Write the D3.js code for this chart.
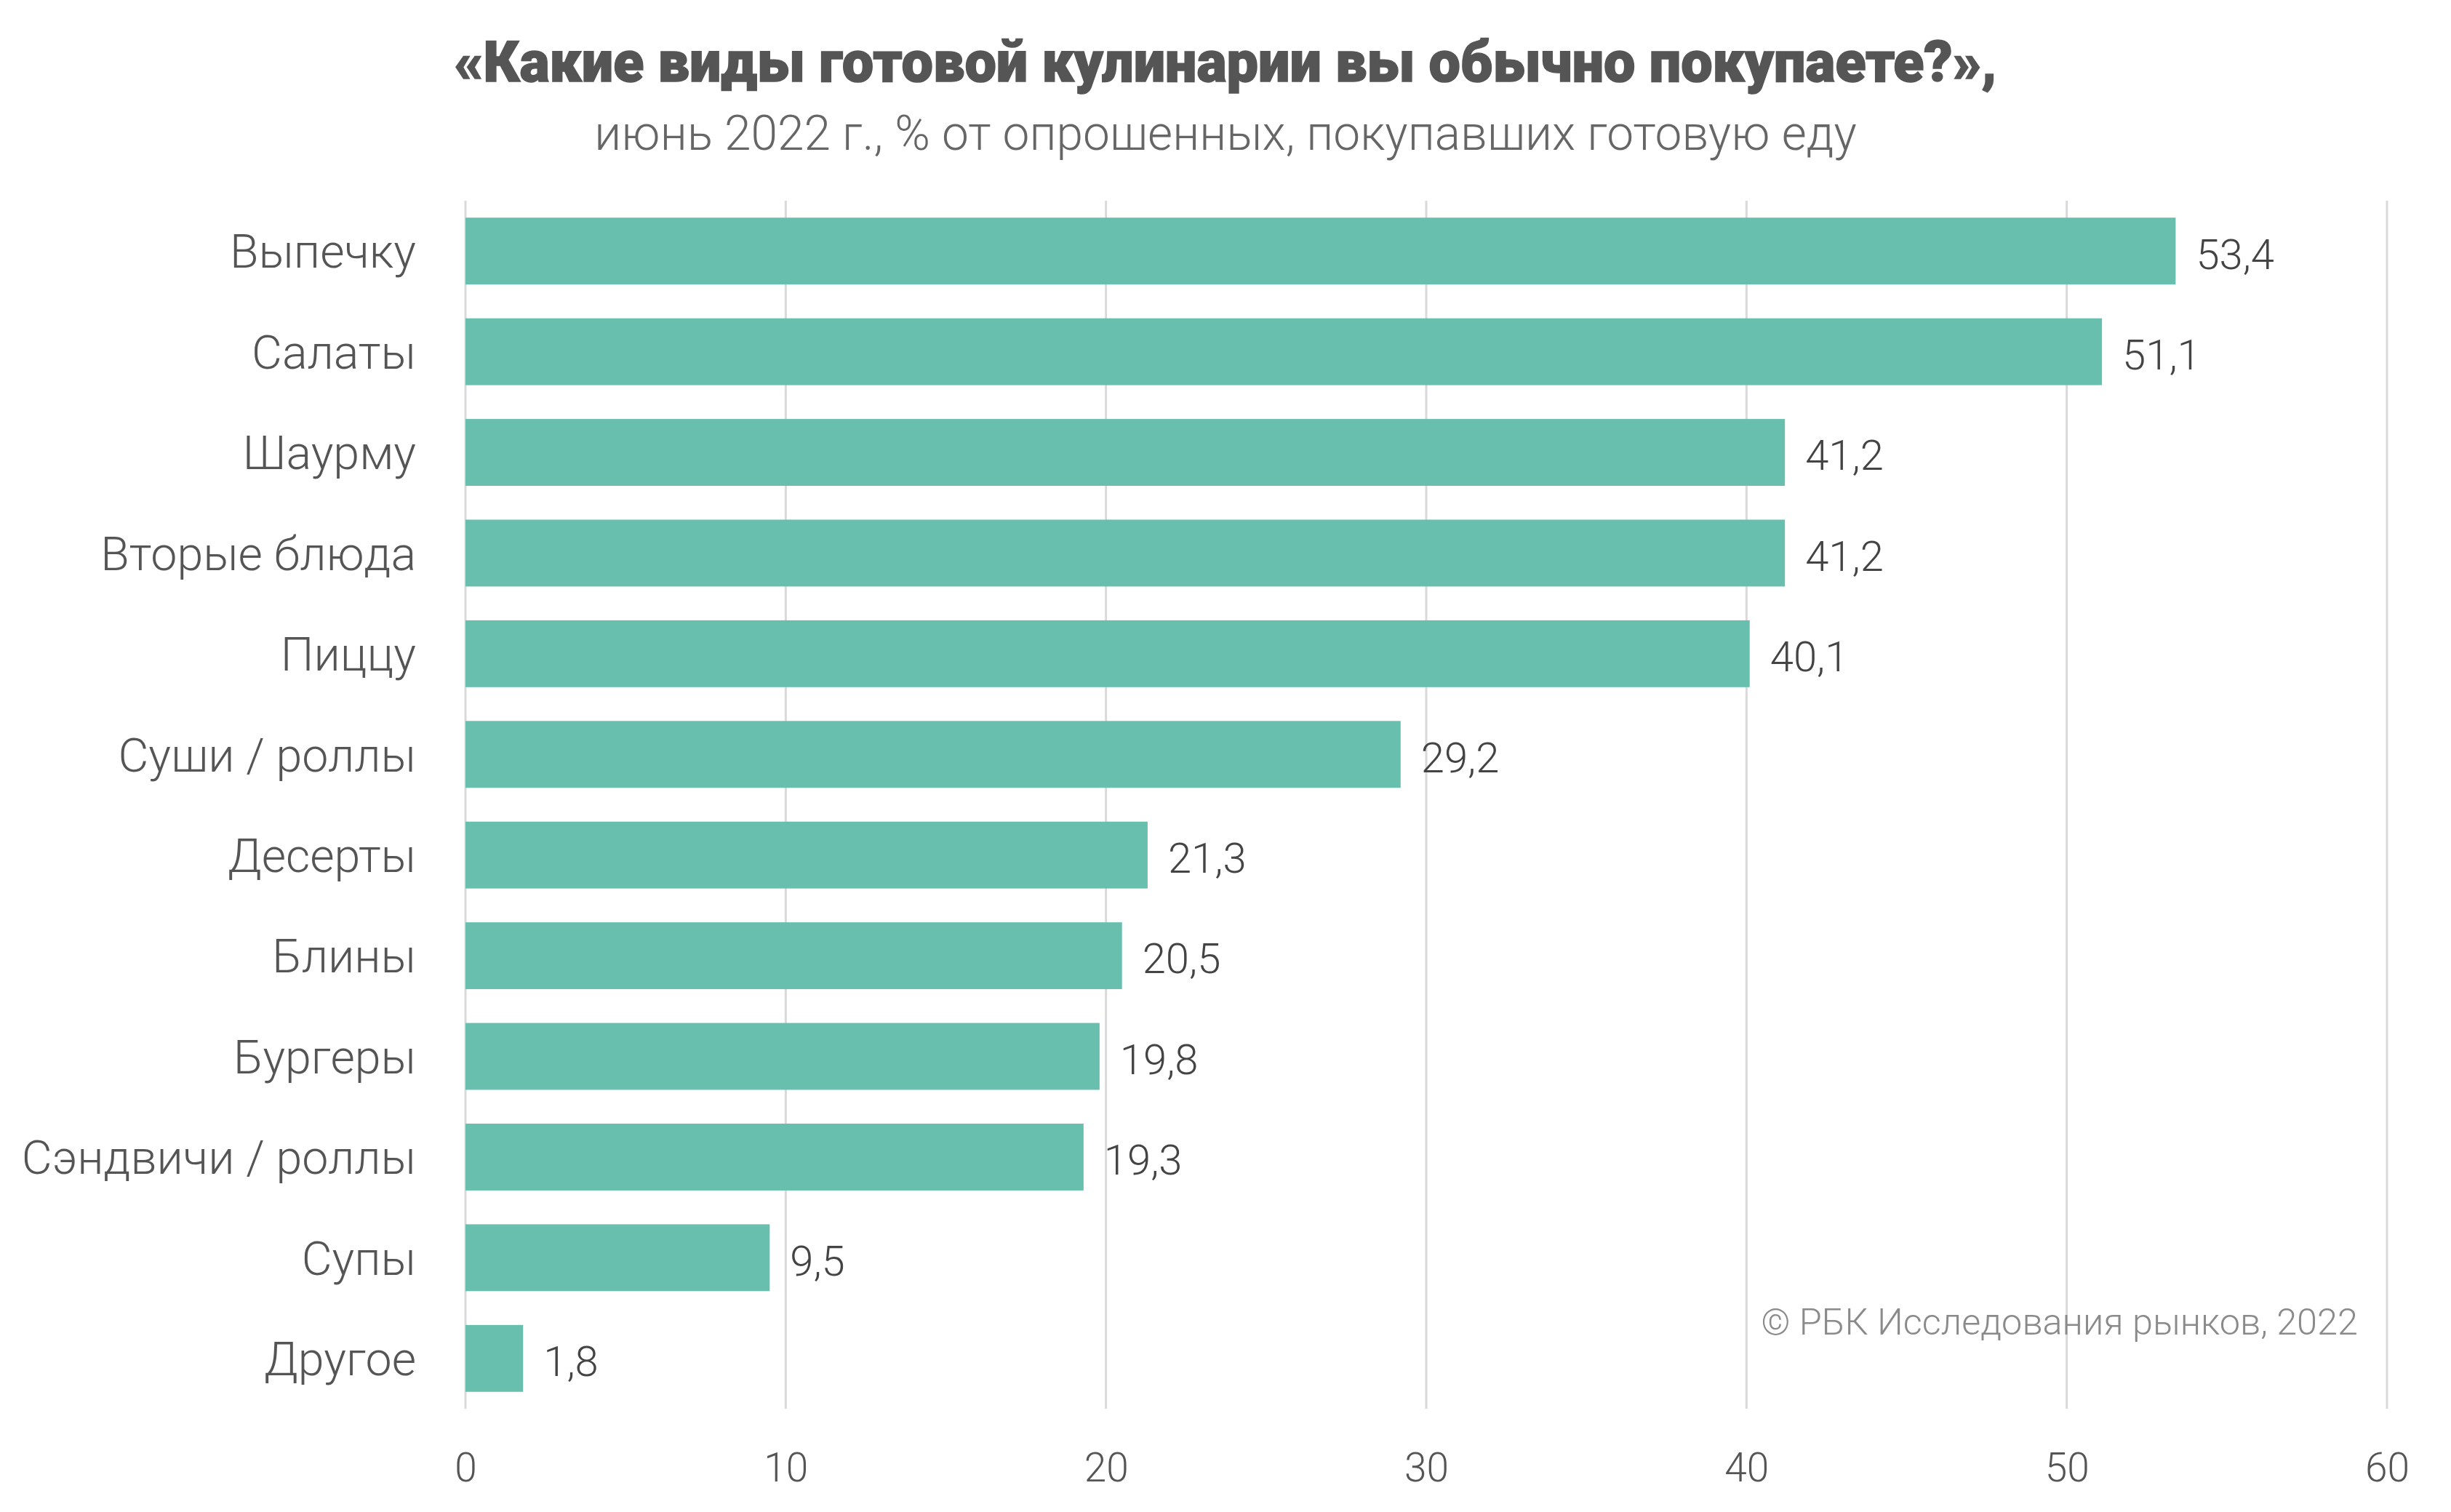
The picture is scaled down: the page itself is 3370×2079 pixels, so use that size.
<!DOCTYPE html>
<html>
<head>
<meta charset="utf-8">
<script src="https://cdn.jsdelivr.net/npm/d3@7"></script>
<style>
  html, body { margin: 0; padding: 0; background: #fff; }
  svg { display: block; }
</style>
</head>
<body>
<svg id="chart" width="3370" height="2079"></svg>
<script>
const categories = ["Выпечку", "Салаты", "Шаурму", "Вторые блюда", "Пиццу", "Суши / роллы",
  "Десерты", "Блины", "Бургеры", "Сэндвичи / роллы", "Супы", "Другое"];
const values = [53.4, 51.1, 41.2, 41.2, 40.1, 29.2, 21.3, 20.5, 19.8, 19.3, 9.5, 1.8];
const xTicks = [0, 10, 20, 30, 40, 50, 60];
const titleText = "«Какие виды готовой кулинарии вы обычно покупаете?»,";
const subtitleText = "июнь 2022 г., % от опрошенных, покупавших готовую еду";
const sourceText = "© РБК Исследования рынков, 2022";

(function () {
const svg = d3.select("#chart");
const mLeft = 640, mRight = 3282, mTop = 276, mBottom = 1937;

const x = d3.scaleLinear().domain([0, 60]).range([mLeft, mRight]);
const y = d3.scaleBand().domain(categories).range([mTop, mBottom])
  .paddingInner(0.336).paddingOuter(0.168);

const fmt = v => String(v).replace(".", ",");

// grid
svg.append("g").selectAll("line").data(xTicks).join("line")
  .attr("x1", d => x(d)).attr("x2", d => x(d))
  .attr("y1", mTop).attr("y2", mBottom)
  .attr("stroke", "#d9d9d9").attr("stroke-width", 3);

// x axis labels
const xAxis = d3.axisBottom(x).tickValues(xTicks).tickSize(0).tickPadding(0).tickFormat(d => d);
const gx = svg.append("g").attr("transform", `translate(0,${2037})`).call(xAxis);
gx.select(".domain").remove();
gx.selectAll("text")
  .attr("dy", 0).attr("y", 0)
  .attr("font-family", "Roboto").attr("font-weight", 300)
  .attr("font-size", 55).attr("fill", "#555");

// bars
svg.append("g").selectAll("rect").data(values).join("rect")
  .attr("x", x(0)).attr("y", (d, i) => y(categories[i]))
  .attr("width", d => x(d) - x(0)).attr("height", y.bandwidth())
  .attr("fill", "#68bfad");

// y axis labels
const yAxis = d3.axisLeft(y).tickSize(0).tickPadding(68);
const gy = svg.append("g").attr("transform", `translate(${mLeft},0)`).call(yAxis);
gy.select(".domain").remove();
gy.selectAll("text")
  .attr("dy", "0.36em")
  .attr("font-family", "Roboto").attr("font-weight", 300)
  .attr("font-size", 64.5).attr("fill", "#555");

// value labels
svg.append("g").selectAll("text").data(values).join("text")
  .attr("x", d => x(d) + 28)
  .attr("y", (d, i) => y(categories[i]) + y.bandwidth() / 2)
  .attr("dy", "0.42em")
  .attr("font-family", "Roboto").attr("font-weight", 300)
  .attr("font-size", 58).attr("fill", "#444")
  .text(d => fmt(d));

function fitText(sel, targetWidth, baseSize) {
  sel.attr("font-size", baseSize);
  const w = sel.node().getComputedTextLength();
  sel.attr("font-size", baseSize * targetWidth / w);
}
const t = svg.append("text").attr("x", 1685).attr("y", 112)
  .attr("text-anchor", "middle")
  .attr("font-family", "Roboto").attr("font-weight", 900)
  .attr("stroke", "#555").attr("stroke-width", 1.5)
  .attr("fill", "#555").text(titleText);
fitText(t, 2121, 100);

const st = svg.append("text").attr("x", 1685).attr("y", 206)
  .attr("text-anchor", "middle")
  .attr("font-family", "Roboto").attr("font-weight", 300)
  .attr("fill", "#666").text(subtitleText);
fitText(st, 1736, 100);

const src = svg.append("text").attr("x", 3242).attr("y", 1835)
  .attr("text-anchor", "end")
  .attr("font-family", "Roboto").attr("font-weight", 300)
  .attr("fill", "#8a8a8a").text(sourceText);
fitText(src, 821, 100);
})();
</script>
</body>
</html>
